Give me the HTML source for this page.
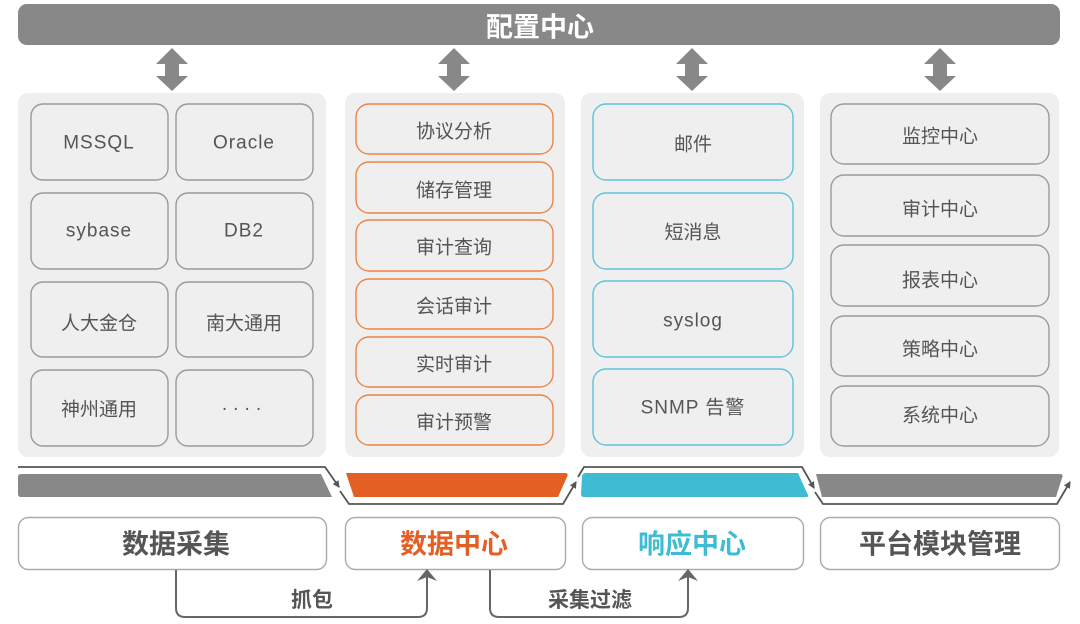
<!DOCTYPE html>
<html><head><meta charset="utf-8">
<style>
html,body{margin:0;padding:0;background:#fff;}
svg{display:block;}
text{font-family:"Liberation Sans","Noto Sans CJK SC",sans-serif;}
.t{font-family:"Noto Sans CJK SC","Liberation Sans",sans-serif;font-size:19px;fill:#555;text-anchor:middle;dominant-baseline:central;}
.lt{font-family:"Liberation Sans","Noto Sans CJK SC",sans-serif;font-size:19px;fill:#555;text-anchor:middle;dominant-baseline:central;letter-spacing:1px;}
.b{font-family:"Noto Sans CJK SC","Liberation Sans",sans-serif;font-size:27px;font-weight:bold;text-anchor:middle;dominant-baseline:central;}
.g{fill:#efefef;stroke:#9a9a9a;stroke-width:1.4;}
.o{fill:#efefef;stroke:#ec8446;stroke-width:1.4;}
.c{fill:#efefef;stroke:#5cc4da;stroke-width:1.4;}
</style></head>
<body>
<svg width="1080" height="624" viewBox="0 0 1080 624" xmlns="http://www.w3.org/2000/svg">
<defs>
<marker id="ah" markerWidth="8" markerHeight="8" refX="6" refY="4" orient="auto" markerUnits="userSpaceOnUse">
<path d="M0,0.5 L7,4 L0,7.5 Z" fill="#555"/>
</marker>
</defs>

<!-- top bar -->
<rect x="18" y="4" width="1042" height="41" rx="9" fill="#888"/>
<text class="b" x="540" y="25" style="font-size:27px;fill:#fff">配置中心</text>

<!-- double arrows -->
<g fill="#888">
<polygon points="172,48 188,64 179,64 179,76 188,76 172,91 156,76 165,76 165,64 156,64"/>
<polygon points="454,48 470,64 461,64 461,76 470,76 454,91 438,76 447,76 447,64 438,64"/>
<polygon points="692,48 708,64 699,64 699,76 708,76 692,91 676,76 685,76 685,64 676,64"/>
<polygon points="940,48 956,64 947,64 947,76 956,76 940,91 924,76 933,76 933,64 924,64"/>
</g>

<!-- panels -->
<rect x="18" y="93" width="308" height="364" rx="10" fill="#efefef"/>
<rect x="345" y="93" width="220" height="364" rx="10" fill="#efefef"/>
<rect x="581" y="93" width="223" height="364" rx="10" fill="#efefef"/>
<rect x="820" y="93" width="239" height="364" rx="10" fill="#efefef"/>

<!-- panel 1 -->
<rect class="g" x="31" y="104" width="137" height="76" rx="12"/>
<rect class="g" x="176" y="104" width="137" height="76" rx="12"/>
<rect class="g" x="31" y="193" width="137" height="76" rx="12"/>
<rect class="g" x="176" y="193" width="137" height="76" rx="12"/>
<rect class="g" x="31" y="282" width="137" height="75" rx="12"/>
<rect class="g" x="176" y="282" width="137" height="75" rx="12"/>
<rect class="g" x="31" y="370" width="137" height="76" rx="12"/>
<rect class="g" x="176" y="370" width="137" height="76" rx="12"/>
<text class="lt" x="99" y="143">MSSQL</text>
<text class="lt" x="244" y="143">Oracle</text>
<text class="lt" x="99" y="231">sybase</text>
<text class="lt" x="244" y="231">DB2</text>
<text class="t" x="99" y="322">人大金仓</text>
<text class="t" x="244" y="322">南大通用</text>
<text class="t" x="99" y="408">神州通用</text>
<text class="lt" x="244" y="409" style="letter-spacing:5px">····</text>

<!-- panel 2 -->
<rect class="o" x="356" y="104" width="197" height="50" rx="13"/>
<rect class="o" x="356" y="162" width="197" height="51" rx="13"/>
<rect class="o" x="356" y="220" width="197" height="51" rx="13"/>
<rect class="o" x="356" y="279" width="197" height="50" rx="13"/>
<rect class="o" x="356" y="337" width="197" height="50" rx="13"/>
<rect class="o" x="356" y="395" width="197" height="50" rx="13"/>
<text class="t" x="454" y="130">协议分析</text>
<text class="t" x="454" y="189">储存管理</text>
<text class="t" x="454" y="246">审计查询</text>
<text class="t" x="454" y="305">会话审计</text>
<text class="t" x="454" y="363">实时审计</text>
<text class="t" x="454" y="421">审计预警</text>

<!-- panel 3 -->
<rect class="c" x="593" y="104" width="200" height="76" rx="13"/>
<rect class="c" x="593" y="193" width="200" height="76" rx="13"/>
<rect class="c" x="593" y="281" width="200" height="76" rx="13"/>
<rect class="c" x="593" y="369" width="200" height="76" rx="13"/>
<text class="t" x="693" y="143">邮件</text>
<text class="t" x="693" y="231">短消息</text>
<text class="lt" x="693" y="321">syslog</text>
<text class="lt" x="693" y="408">SNMP 告警</text>

<!-- panel 4 -->
<rect class="g" x="831" y="104" width="218" height="60" rx="13"/>
<rect class="g" x="831" y="175" width="218" height="61" rx="13"/>
<rect class="g" x="831" y="245" width="218" height="61" rx="13"/>
<rect class="g" x="831" y="316" width="218" height="60" rx="13"/>
<rect class="g" x="831" y="386" width="218" height="60" rx="13"/>
<text class="t" x="940" y="135">监控中心</text>
<text class="t" x="940" y="208">审计中心</text>
<text class="t" x="940" y="279">报表中心</text>
<text class="t" x="940" y="348">策略中心</text>
<text class="t" x="940" y="414">系统中心</text>

<!-- bands -->
<path d="M21,474 L321,474 L332,497 L21,497 Q18,497 18,494 L18,477 Q18,474 21,474 Z" fill="#888"/>
<path d="M346,473 L565,473 Q569,473 567,477 L558,497 L354,497 Z" fill="#e35f24"/>
<path d="M586,473 L798,473 L808,495 Q809,497 806,497 L584,497 Q581,497 581,494 L582,477 Q582,473 586,473 Z" fill="#3fbcd4"/>
<path d="M816,474 L1060,474 Q1064,474 1062,478 L1056,497 L822,497 Z" fill="#888"/>

<!-- flow line -->
<g fill="none" stroke="#555" stroke-width="1.8" stroke-linejoin="miter">
<path d="M18,467 L325,467 L339,487" marker-end="url(#ah)"/>
<path d="M340,491 L349,504 L563,504 L576,482" marker-end="url(#ah)"/>
<path d="M578,477 L584,467 L802,467 L814,488" marker-end="url(#ah)"/>
<path d="M815,492 L823,504 L1057,504 L1070,482" marker-end="url(#ah)"/>
</g>

<!-- bottom boxes -->
<rect x="18.5" y="517.5" width="308" height="52" rx="10" fill="#fff" stroke="#aaa" stroke-width="1.4"/>
<rect x="345.5" y="517.5" width="220" height="52" rx="10" fill="#fff" stroke="#aaa" stroke-width="1.4"/>
<rect x="582.5" y="517.5" width="221" height="52" rx="10" fill="#fff" stroke="#aaa" stroke-width="1.4"/>
<rect x="820.5" y="517.5" width="239" height="52" rx="10" fill="#fff" stroke="#aaa" stroke-width="1.4"/>
<text class="b" x="176" y="542" style="fill:#555">数据采集</text>
<text class="b" x="454" y="542" style="fill:#e35f24">数据中心</text>
<text class="b" x="692" y="542" style="fill:#3fbcd4">响应中心</text>
<text class="b" x="940" y="542" style="fill:#555">平台模块管理</text>

<!-- bottom connectors -->
<g fill="none" stroke="#666" stroke-width="2">
<path d="M176,570 V608 Q176,617 185,617 H418 Q427,617 427,608 V574"/>
<path d="M490,570 V608 Q490,617 499,617 H679 Q688,617 688,608 V574"/>
</g>
<polygon points="427,569 437,581 427,577 417,581" fill="#666"/>
<polygon points="688,569 698,581 688,577 678,581" fill="#666"/>
<text class="b" x="312" y="599" style="fill:#555;font-size:21px">抓包</text>
<text class="b" x="590" y="599" style="fill:#555;font-size:21px">采集过滤</text>
</svg>
</body></html>
